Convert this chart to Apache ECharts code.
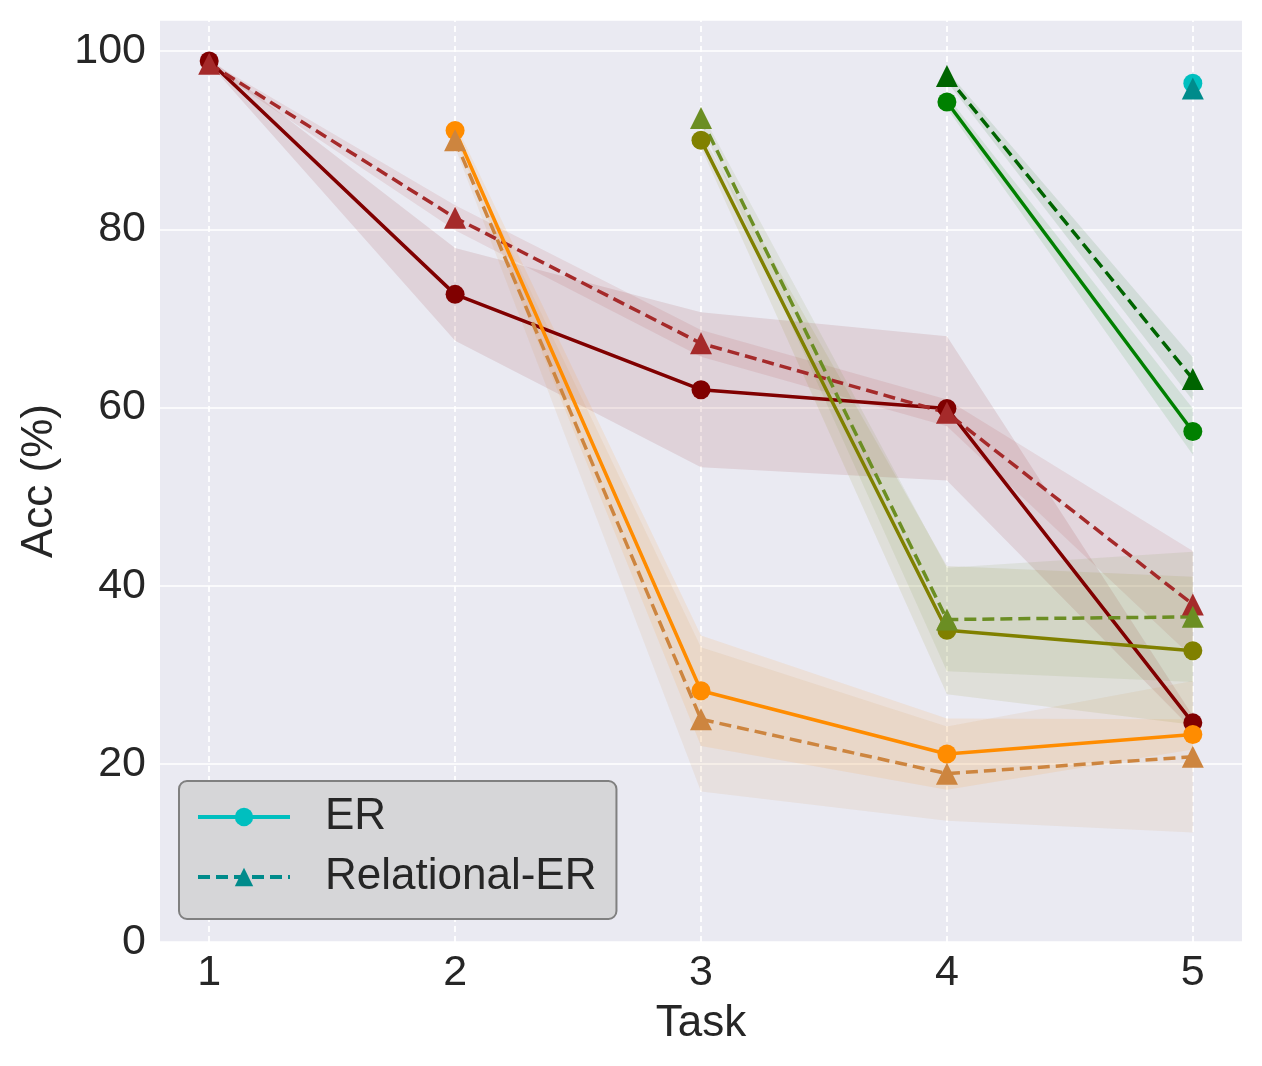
<!DOCTYPE html>
<html>
<head>
    <meta charset="utf-8">
    <title>Acc per task</title>
    <script src="https://cdn.jsdelivr.net/npm/echarts@6/dist/echarts.min.js"></script>
    <style>
        html, body { margin: 0; padding: 0; background: #fff; }
        #main { width: 1262px; height: 1066px; }
    </style>
</head>
<body>
<div id="main"></div>
<script>
    // x positions (task index)
    var tasks = [1, 2, 3, 4, 5];
    var yTicks = [0, 20, 40, 60, 80, 100];

    // mean accuracy on task k after training on each later task, with std
    var erT1 = [98.9, 72.7, 62.0, 59.9, 24.6];
    var erT1Std = [0.3, 5.2, 8.7, 8.1, 0.8];
    var relT1 = [98.6, 81.3, 67.2, 59.4, 37.9];
    var relT1Std = [0.3, 1.4, 1.5, 1.5, 6.0];

    var erT2 = [91.1, 28.2, 21.1, 23.3];
    var erT2Std = [0.8, 6.2, 4.0, 1.7];
    var relT2 = [90.0, 25.0, 18.9, 20.8];
    var relT2Std = [0.8, 8.1, 5.3, 8.5];

    var erT3 = [90.0, 35.0, 32.7];
    var erT3Std = [0.8, 7.2, 8.3];
    var relT3 = [92.5, 36.2, 36.5];
    var relT3Std = [0.7, 5.8, 7.3];

    var erT4 = [94.3, 57.3];
    var erT4Std = [0.7, 2.6];
    var relT4 = [97.2, 63.2];
    var relT4Std = [0.6, 2.4];

    var erT5 = [96.4];
    var relT5 = [95.8];

    var erColors = ['#800000', '#FF8C00', '#808000', '#008000', '#00BFBF'];
    var relColors = ['#A52A2A', '#CD853F', '#6B8E23', '#006400', '#008B8B'];

    var font = 'Liberation Sans, Arial, sans-serif';
    var textColor = '#262626';

    function toPoints(start, values) {
        return values.map(function (v, i) { return [tasks[start + i], v]; });
    }

    function lineSeries(name, start, values, color, dashed) {
        return {
            name: name,
            type: 'line',
            z: 3,
            data: toPoints(start, values),
            symbol: dashed ? 'triangle' : 'circle',
            symbolSize: dashed ? 22 : 19,
            itemStyle: { color: color, opacity: 1 },
            lineStyle: { color: color, width: 3.5, type: dashed ? [12, 6] : 'solid' },
            emphasis: { disabled: true },
            silent: true
        };
    }

    // band = mean +/- std, one polygon drawn through the axis scales
    function bandSeries(id, start, values, std, color) {
        var pts = values.map(function (v, i) { return [tasks[start + i], v - std[i], v + std[i]]; });
        return {
            name: id, type: 'custom', z: 1, silent: true,
            data: pts,
            encode: { x: 0, y: [1, 2] },
            renderItem: function (params, api) {
                if (params.dataIndex !== 0) return;
                var upper = pts.map(function (p) { return api.coord([p[0], p[2]]); });
                var lower = pts.map(function (p) { return api.coord([p[0], p[1]]); }).reverse();
                return {
                    type: 'polygon',
                    shape: { points: upper.concat(lower) },
                    style: { fill: color, opacity: 0.1 }
                };
            }
        };
    }

    var runs = [
        { er: erT1, erStd: erT1Std, rel: relT1, relStd: relT1Std },
        { er: erT2, erStd: erT2Std, rel: relT2, relStd: relT2Std },
        { er: erT3, erStd: erT3Std, rel: relT3, relStd: relT3Std },
        { er: erT4, erStd: erT4Std, rel: relT4, relStd: relT4Std },
        { er: erT5, erStd: null, rel: relT5, relStd: null }
    ];

    // vertical dashed grid lines, carried by a helper series
    var series = [{
        name: 'vgrid', type: 'line', z: 0, data: toPoints(0, erT1),
        symbol: 'none', lineStyle: { opacity: 0 }, silent: true,
        markLine: {
            z: 0, silent: true, symbol: 'none', label: { show: false },
            lineStyle: { color: '#ffffff', width: 1.8, type: [6, 4], opacity: 1 },
            emphasis: { disabled: true },
            data: tasks.map(function (t) { return { xAxis: t }; })
        }
    }];

    runs.forEach(function (r, k) {
        if (r.erStd) {
            series.push(bandSeries('er-band' + k, k, r.er, r.erStd, erColors[k]));
            series.push(bandSeries('rel-band' + k, k, r.rel, r.relStd, relColors[k]));
        }
    });
    runs.forEach(function (r, k) {
        var last = k === runs.length - 1;
        series.push(lineSeries(last ? 'ER' : 'ER task ' + (k + 1), k, r.er, erColors[k], false));
        series.push(lineSeries(last ? 'Relational-ER' : 'Relational-ER task ' + (k + 1), k, r.rel, relColors[k], true));
    });

    var chart = echarts.init(document.getElementById('main'), null, { renderer: 'canvas' });
    chart.setOption({
        animation: false,
        backgroundColor: '#ffffff',
        grid: {
            left: 160, right: 20, top: 20, bottom: 124,
            show: true, backgroundColor: '#EAEAF2', borderWidth: 0
        },
        legend: {
            data: ['ER', 'Relational-ER'],
            orient: 'vertical',
            left: 179, top: 781,
            itemWidth: 92, itemHeight: 23, itemGap: 16,
            padding: [14, 20, 20, 17],
            backgroundColor: '#D6D6D8',
            borderColor: '#808080', borderWidth: 2, borderRadius: 8,
            selectedMode: false,
            lineStyle: { width: 4 },
            textStyle: { fontSize: 44, color: textColor, fontFamily: font, padding: [0, 0, 0, 30], lineHeight: 44 }
        },
        xAxis: {
            type: 'value',
            min: 0.8, max: 5.2,
            name: 'Task', nameLocation: 'middle', nameGap: 60,
            nameTextStyle: { fontSize: 44, color: textColor, fontFamily: font },
            axisLine: { show: false },
            axisTick: { show: false },
            splitLine: { show: false },
            axisLabel: {
                customValues: tasks,
                fontSize: 43, color: textColor, fontFamily: font, margin: 10
            }
        },
        yAxis: {
            type: 'value',
            min: 0, max: 103.5, interval: 20,
            name: 'Acc (%)', nameLocation: 'middle', nameGap: 98,
            nameTextStyle: { fontSize: 44, color: textColor, fontFamily: font },
            axisLine: { show: false },
            axisTick: { show: false },
            splitLine: { lineStyle: { color: '#ffffff', width: 1.5 } },
            axisLabel: {
                fontSize: 43, color: textColor, fontFamily: font, margin: 14,
                formatter: function (v) { return yTicks.indexOf(v) >= 0 ? String(v) : ''; }
            }
        },
        series: series
    });
</script>
</body>
</html>
